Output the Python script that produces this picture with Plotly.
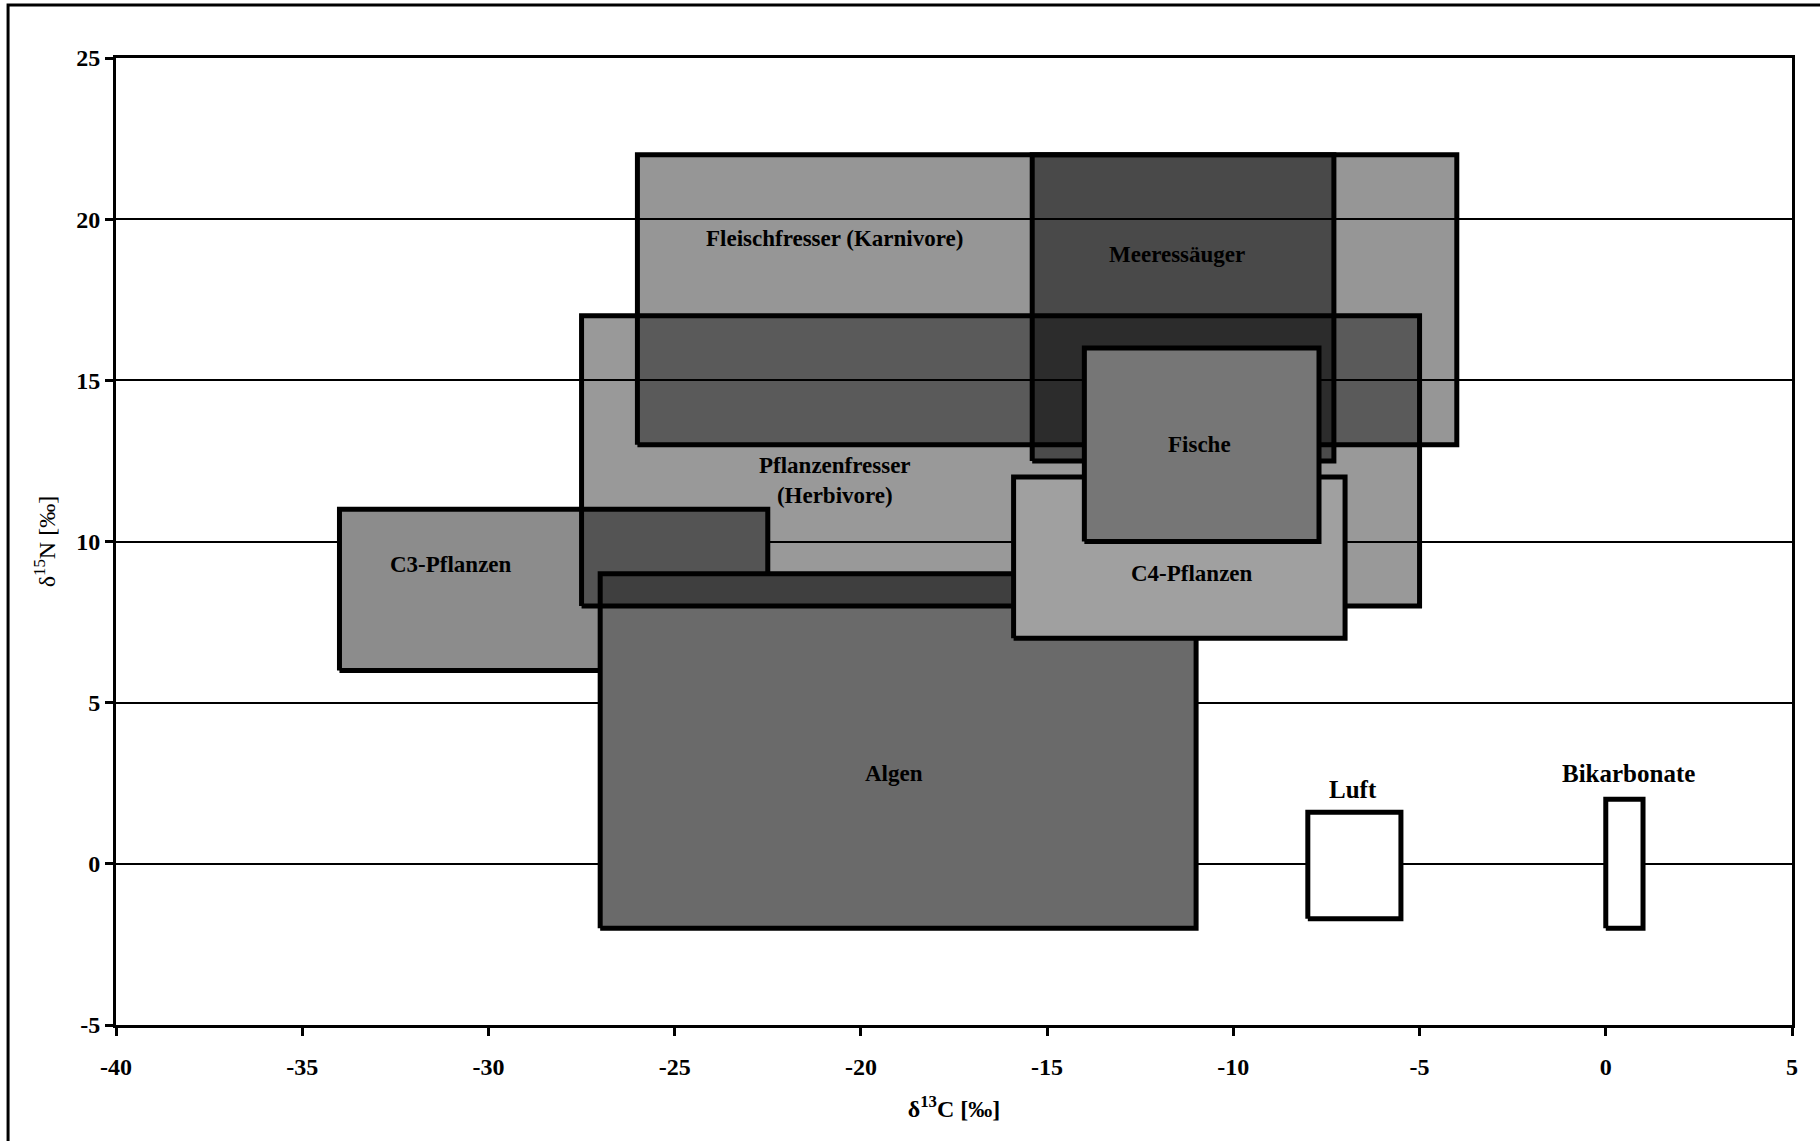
import plotly.graph_objects as go

# Ranges of delta-13C and delta-15N (per mille) for each group
groups = ["C3-Pflanzen", "Algen", "Pflanzenfresser (Herbivore)",
          "Fleischfresser (Karnivore)", "Meeressäuger", "C4-Pflanzen",
          "Fische", "Luft", "Bikarbonate"]
c13_min = [-34.0, -27.0, -27.5, -26.0, -15.4, -15.9, -14.0, -8.0, 0.0]
c13_max = [-22.5, -11.0, -5.0, -4.0, -7.3, -7.0, -7.7, -5.5, 1.0]
n15_min = [6.0, -2.0, 8.0, 13.0, 12.5, 7.0, 10.0, -1.7, -2.0]
n15_max = [11.0, 9.0, 17.0, 22.0, 22.0, 12.0, 16.0, 1.6, 2.0]

# Fill per group (drawn in list order, later ones on top)
fills = ["rgb(140,140,140)", "rgb(106,106,106)", "rgba(0,0,0,0.40)",
         "rgba(0,0,0,0.41)", "rgba(0,0,0,0.51)", "rgb(160,160,160)",
         "rgb(118,118,118)", "white", "white"]

# Group labels and where they sit
label_text = ["C3-Pflanzen", "Algen", "Pflanzenfresser<br>(Herbivore)",
              "Fleischfresser (Karnivore)", "Meeressäuger", "C4-Pflanzen",
              "Fische", "Luft", "Bikarbonate"]
label_x = [-31.0, -19.1, -20.7, -20.7, -11.5, -11.1, -10.9, -6.8, 0.6]
label_y = [9.3, 2.8, 11.9, 19.4, 18.9, 9.0, 13.0, 2.3, 2.8]
label_size = [23, 23, 23, 23, 23, 23, 23, 25, 25]

x_ticks = [-40, -35, -30, -25, -20, -15, -10, -5, 0, 5]
y_ticks = [-5, 0, 5, 10, 15, 20, 25]

SERIF = "Liberation Serif"

fig = go.Figure()
for g, x0, x1, y0, y1, fc in zip(groups, c13_min, c13_max, n15_min, n15_max, fills):
    fig.add_trace(go.Scatter(
        x=[x0, x1, x1, x0, x0], y=[y0, y0, y1, y1, y0],
        mode="lines", fill="toself", fillcolor=fc,
        line=dict(color="black", width=5),
        name=g, hoverinfo="skip", showlegend=False,
    ))

for t, x, y, s in zip(label_text, label_x, label_y, label_size):
    fig.add_annotation(x=x, y=y, xref="x", yref="y", text=t, showarrow=False,
                       font=dict(family=SERIF, size=s, color="black", weight="bold"))

# outer frame around the whole figure
fig.add_shape(type="rect", xref="paper", yref="paper",
              x0=-0.0644, x1=1.03, y0=-0.15, y1=1.0547,
              line=dict(color="black", width=3), fillcolor="rgba(0,0,0,0)",
              layer="above")

fig.update_layout(
    width=1820, height=1141,
    margin=dict(l=116, r=28, t=58, b=116),
    paper_bgcolor="white", plot_bgcolor="white",
    font=dict(family=SERIF, color="black"),
    xaxis=dict(
        range=[-40, 5], tickvals=x_ticks, ticktext=[str(v) for v in x_ticks],
        showgrid=False, zeroline=False,
        showline=True, linecolor="black", linewidth=3, mirror=True,
        ticks="outside", ticklen=8, tickwidth=3, tickcolor="black",
        tickfont=dict(family=SERIF, size=24, weight="bold"),
        ticklabelstandoff=10,
        title=dict(text="δ<sup>13</sup>C [‰]", standoff=22,
                   font=dict(family=SERIF, size=24, weight="bold")),
        automargin=False,
    ),
    yaxis=dict(
        range=[-5, 25], tickvals=y_ticks, ticktext=[str(v) for v in y_ticks],
        showgrid=True, gridcolor="black", gridwidth=2, zeroline=False,
        showline=True, linecolor="black", linewidth=3, mirror=True,
        ticks="outside", ticklen=8, tickwidth=3, tickcolor="black",
        tickfont=dict(family=SERIF, size=24, weight="bold"),
        title=dict(text="δ<sup>15</sup>N [‰]", standoff=14,
                   font=dict(family=SERIF, size=24)),
        automargin=False,
    ),
)

fig.write_html("out.html")
